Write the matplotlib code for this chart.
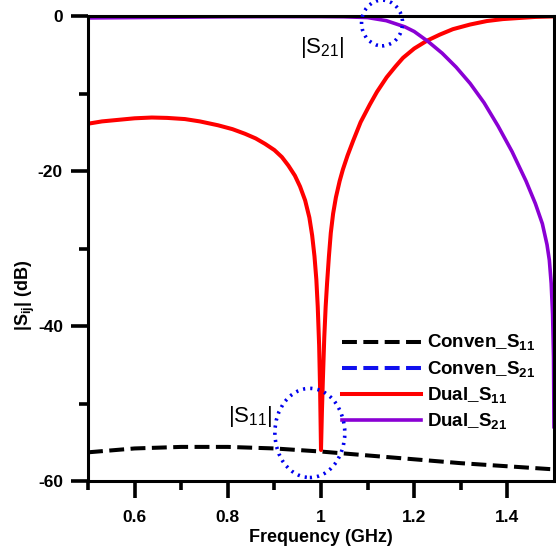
import numpy as np
import matplotlib
matplotlib.use('Agg')
import matplotlib.pyplot as plt
from matplotlib.patches import Ellipse

plt.rcParams['font.family'] = 'Liberation Sans'
plt.rcParams['axes.unicode_minus'] = False
plt.rcParams['mathtext.fontset'] = 'custom'
plt.rcParams['mathtext.rm'] = 'Liberation Sans'
plt.rcParams['mathtext.bf'] = 'Liberation Sans:bold'

# --- Data ---
conv_f = [0.5, 0.6, 0.7, 0.8, 0.9, 1.0, 1.1, 1.2, 1.3, 1.4, 1.5]
conv_s11 = [-56.3, -55.8, -55.6, -55.6, -55.8, -56.2, -56.7, -57.2, -57.7, -58.1, -58.5]
conv_s21 = [0.0, 0.0, 0.0, 0.0, 0.0, 0.0, 0.0, 0.0, 0.0, 0.0, 0.0]

s11_f = [0.50, 0.53, 0.565, 0.60, 0.637, 0.67, 0.708, 0.74, 0.779, 0.81, 0.837,
         0.86, 0.88, 0.90, 0.916, 0.93, 0.944, 0.955, 0.966, 0.975, 0.981, 0.986,
         0.990, 0.993, 0.996, 0.998, 1.000, 1.002, 1.004, 1.007, 1.010, 1.013,
         1.017, 1.021, 1.026, 1.032, 1.04, 1.047, 1.057, 1.069, 1.085, 1.105,
         1.12, 1.141, 1.16, 1.176, 1.20, 1.227, 1.255, 1.283, 1.32, 1.356, 1.39,
         1.427, 1.46, 1.50]
dual_s11 = [-13.9, -13.6, -13.4, -13.2, -13.1, -13.15, -13.3, -13.6, -14.1, -14.6, -15.2,
            -15.8, -16.5, -17.3, -18.2, -19.3, -20.6, -22.0, -23.8, -26.0, -28.3, -31.0,
            -34.0, -37.5, -42.5, -48.0, -56.0, -51.0, -47.0, -41.5, -37.5, -34.5,
            -31.0, -28.0, -25.5, -23.4, -21.3, -19.8, -18.0, -16.1, -13.7, -11.4,
            -9.8, -7.9, -6.5, -5.4, -4.2, -3.2, -2.4, -1.7, -1.1, -0.65, -0.4,
            -0.25, -0.12, -0.05]

s21_f = [0.50, 0.60, 0.70, 0.80, 0.90, 1.00, 1.05, 1.10, 1.14, 1.18, 1.20, 1.23,
         1.26, 1.29, 1.32, 1.35, 1.38, 1.41, 1.44, 1.46, 1.475, 1.485, 1.49,
         1.494, 1.497, 1.499, 1.50]
dual_s21 = [-0.25, -0.2, -0.15, -0.1, -0.08, -0.08, -0.1, -0.2, -0.6, -1.4, -2.0, -3.3,
            -4.8, -6.6, -8.7, -11.2, -14.2, -17.5, -21.3, -24.2, -26.8, -29.5, -31.5,
            -34.5, -38.5, -44.0, -53.0]

# --- Figure & axes ---
fig = plt.figure(figsize=(5.56, 5.55), dpi=100)
ax = fig.add_axes([88 / 556, 1 - 481 / 555, 466 / 556, 465 / 555])

ax.plot(conv_f, conv_s11, '--', color='black', lw=2.9, label=r'Conven_S$_\mathbf{11}$')
ax.plot(conv_f, conv_s21, '--', color='#1010ee', lw=2.9, label=r'Conven_S$_\mathbf{21}$')
ax.plot(s11_f, dual_s11, '-', color='#ff0000', lw=2.9, label=r'Dual_S$_\mathbf{11}$')
ax.plot(s21_f, dual_s21, '-', color='#8a00d4', lw=2.6, label=r'Dual_S$_\mathbf{21}$')

ax.set_xlim(0.5, 1.5)
ax.set_ylim(-60, 0)
ax.set_xticks([0.6, 0.8, 1.0, 1.2, 1.4])
ax.set_xticklabels(['0.6', '0.8', '1', '1.2', '1.4'])
ax.set_xticks([0.5, 0.7, 0.9, 1.1, 1.3], minor=True)
ax.set_yticks([0, -20, -40, -60])
ax.set_yticks([-10, -30, -50], minor=True)

ax.tick_params(which='both', direction='out', width=2.6, labelsize=12.5)
ax.tick_params(axis='x', which='major', length=12, pad=9)
ax.tick_params(axis='y', which='major', length=12, pad=6)
ax.tick_params(which='minor', length=6.5)
ax.tick_params(top=False, right=False)
for lab in ax.get_xticklabels() + ax.get_yticklabels():
    lab.set_fontweight('bold')

for sp in ax.spines.values():
    sp.set_linewidth(2.2)
    sp.set_zorder(5)

ax.set_xlabel('Frequency (GHz)', fontsize=13, fontweight='bold', labelpad=3)
ax.set_ylabel(r'|S$_\mathbf{ij}$| (dB)', fontsize=13, fontweight='bold')
ax.yaxis.set_label_coords(-0.11, 0.40)

# --- Legend ---
ax.legend(loc='upper left', bbox_to_anchor=(0.545, 0.318), frameon=False,
          prop={'weight': 'bold', 'size': 13.5}, handlelength=4.2,
          handletextpad=0.35, labelspacing=0.32, borderpad=0, borderaxespad=0)

# --- Annotations ---
ax.text(1.002, -4.1, r'|S$_\mathrm{21}$|', fontsize=16, ha='center', va='center')
ax.text(0.848, -51.7, r'|S$_\mathrm{11}$|', fontsize=16, ha='center', va='center')

for (cx, cy, w, h) in [(1.131, -0.9, 0.088, 5.9), (0.976, -53.8, 0.150, 11.5)]:
    ax.add_patch(Ellipse((cx, cy), w, h, fill=False, edgecolor='#0000ee',
                         lw=2.6, linestyle=(0, (0.6, 1.4)), clip_on=False, zorder=6))

fig.savefig('out.png', dpi=100)
